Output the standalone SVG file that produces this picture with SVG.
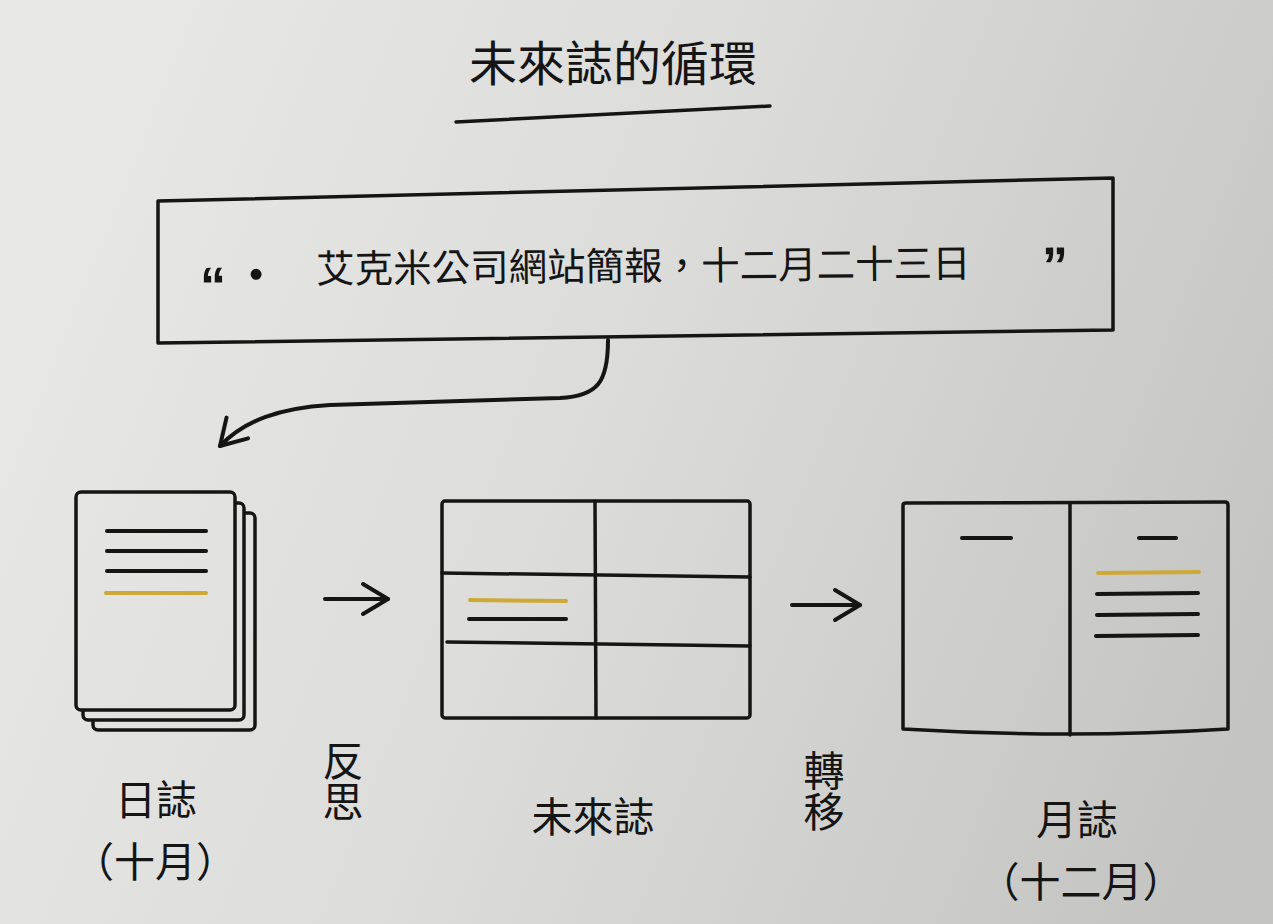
<svg xmlns="http://www.w3.org/2000/svg" width="1273" height="924" viewBox="0 0 1273 924">
  <defs>
    <linearGradient id="paper" gradientUnits="userSpaceOnUse" x1="0" y1="250" x2="1273" y2="750">
      <stop offset="0" stop-color="#e8e8e6"/>
      <stop offset="0.45" stop-color="#dcdcda"/>
      <stop offset="1" stop-color="#c3c3c1"/>
    </linearGradient>
    <marker id="chev" viewBox="-28 -18 31 36" markerWidth="31" markerHeight="36" refX="0" refY="0" orient="auto" markerUnits="userSpaceOnUse">
      <path d="M -25 -15 L 0 0 L -25 15" fill="none" stroke="#151515" stroke-width="4" stroke-linecap="round" stroke-linejoin="round"/>
    </marker>
    <style>
      .ink { fill: none; stroke: #151515; stroke-width: 3.5; stroke-linecap: round; stroke-linejoin: round; }
      .flow { fill: none; stroke: #151515; stroke-width: 4; stroke-linecap: round; stroke-linejoin: round; }
      .sheet { fill: url(#paper); stroke: #151515; stroke-width: 3.5; stroke-linejoin: round; }
      .rule { stroke: #151515; stroke-width: 4; stroke-linecap: round; }
      .mark { stroke: #cfa936; stroke-width: 4; stroke-linecap: round; }
      .txt { font-family: "Noto Sans CJK TC", "Noto Sans CJK SC", sans-serif; fill: #151515; }
      .lbl { font-size: 41px; text-anchor: middle; }
      .vert { font-size: 41px; writing-mode: vertical-rl; text-anchor: start; }
      .quote { font-family: "Liberation Sans", "DejaVu Sans", sans-serif; font-weight: bold; font-size: 52px; fill: #151515; }
    </style>
  </defs>

  <!-- page background -->
  <rect x="0" y="0" width="1273" height="924" fill="url(#paper)"/>

  <!-- heading -->
  <g id="title">
    <text class="txt" x="613" y="81" font-size="48" text-anchor="middle">未來誌的循環</text>
    <line x1="456" y1="122" x2="770" y2="106" class="ink" stroke-width="4"/>
  </g>

  <!-- quoted entry -->
  <g id="entry">
    <path class="sheet" d="M158 201 L1113 178 L1113 330 L158 343 Z"/>
    <g transform="rotate(-0.5 635 262)">
      <text class="quote" x="200" y="300">“</text>
      <circle cx="256" cy="271" r="5.5" fill="#151515"/>
      <text class="txt" x="316" y="280" font-size="38.5">艾克米公司網站簡報，十二月二十三日</text>
      <text class="quote" x="1042" y="287">”</text>
    </g>
  </g>

  <!-- daily log: stacked pages -->
  <g id="daily-log">
    <rect class="sheet" x="93" y="513" width="162" height="217" rx="5"/>
    <rect class="sheet" x="83" y="503" width="161" height="217" rx="5"/>
    <rect class="sheet" x="76" y="492" width="159" height="218" rx="5"/>
    <line class="rule" x1="107" y1="531" x2="206" y2="531"/>
    <line class="rule" x1="107" y1="551" x2="206" y2="551"/>
    <line class="rule" x1="107" y1="571" x2="206" y2="571"/>
    <line class="mark" x1="106" y1="593" x2="206" y2="593"/>
    <text class="txt lbl" x="156" y="815">日誌</text>
    <text class="txt lbl" x="155" y="877">（十月）</text>
  </g>

  <!-- future log: six-cell grid -->
  <g id="future-log">
    <rect class="sheet" x="442" y="501" width="308" height="217" rx="3"/>
    <line class="ink" x1="595" y1="501" x2="596" y2="718"/>
    <line class="ink" x1="442" y1="573" x2="750" y2="577"/>
    <line class="ink" x1="447" y1="642" x2="750" y2="646"/>
    <line class="mark" x1="470" y1="600" x2="566" y2="601"/>
    <line class="rule" x1="469" y1="619" x2="566" y2="619"/>
    <text class="txt lbl" x="593" y="832">未來誌</text>
  </g>

  <!-- monthly log: open book -->
  <g id="monthly-log">
    <path class="sheet" d="M903 505 Q903 503 906 503 L1225 502 Q1228 502 1228 505 L1228 729 Q1070 739 903 729 Z"/>
    <line class="ink" x1="1070" y1="504" x2="1070" y2="735"/>
    <line class="rule" x1="962" y1="538" x2="1011" y2="538"/>
    <line class="rule" x1="1139" y1="538" x2="1176" y2="538"/>
    <line class="mark" x1="1098" y1="573" x2="1199" y2="572"/>
    <line class="rule" x1="1097" y1="594" x2="1198" y2="593"/>
    <line class="rule" x1="1097" y1="615" x2="1198" y2="614"/>
    <line class="rule" x1="1096" y1="636" x2="1198" y2="635"/>
    <text class="txt lbl" x="1077" y="835">月誌</text>
    <text class="txt lbl" x="1081" y="897">（十二月）</text>
  </g>

  <!-- step labels, set vertically -->
  <g id="step-reflect">
    <text class="txt vert" x="343" y="740">反思</text>
  </g>
  <g id="step-migrate">
    <text class="txt vert" x="824" y="750">轉移</text>
  </g>

  <!-- connectors -->
  <g id="connectors">
    <path class="flow" d="M608 340 C608 382 598 396 560 398 L330 405 C280 408 245 420 220 446" marker-end="url(#chev)"/>
    <line class="flow" x1="325" y1="599" x2="388" y2="599" marker-end="url(#chev)"/>
    <line class="flow" x1="792" y1="605" x2="860" y2="605" marker-end="url(#chev)"/>
  </g>
</svg>
